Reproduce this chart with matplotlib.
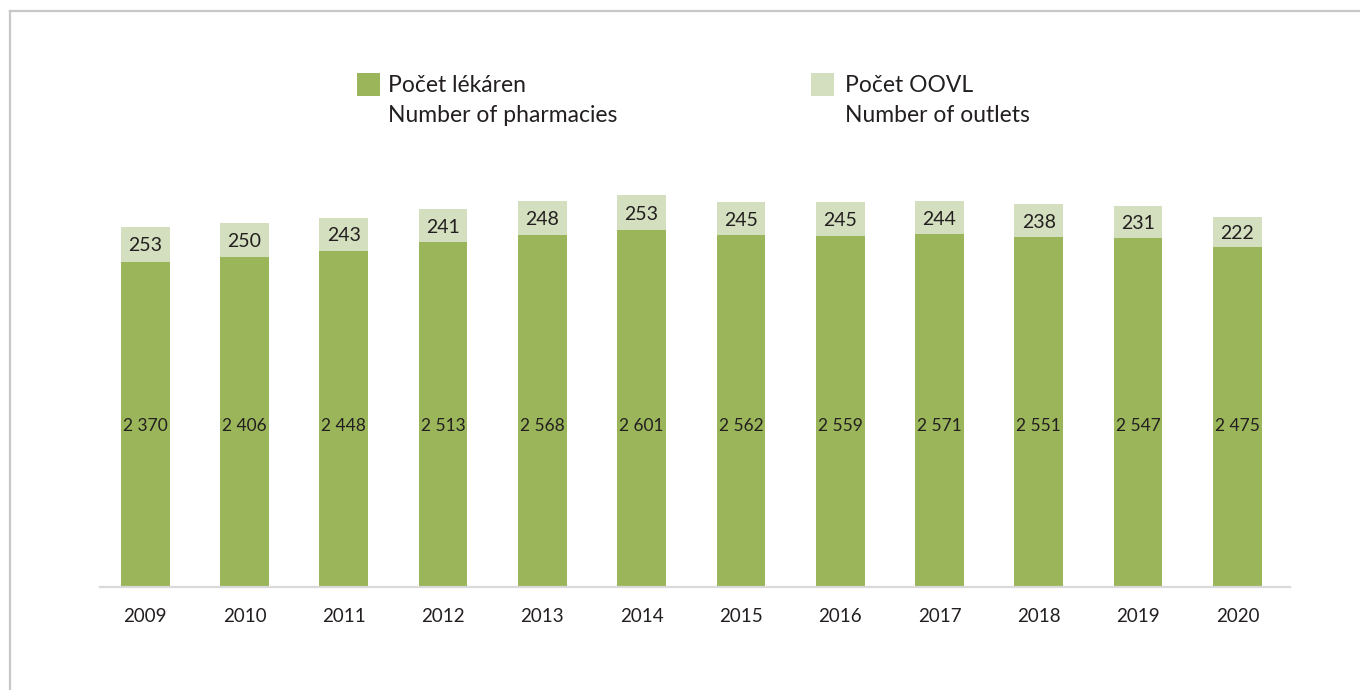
import matplotlib
matplotlib.use("Agg")
import matplotlib.pyplot as plt
from matplotlib.patches import Rectangle
from matplotlib.lines import Line2D
import numpy as np

years = ["2009", "2010", "2011", "2012", "2013", "2014", "2015", "2016", "2017", "2018", "2019", "2020"]
pharmacies = [2370, 2406, 2448, 2513, 2568, 2601, 2562, 2559, 2571, 2551, 2547, 2475]
outlets = [253, 250, 243, 241, 248, 253, 245, 245, 244, 238, 231, 222]
legend_labels = ["Počet lékáren\nNumber of pharmacies", "Počet OOVL\nNumber of outlets"]

GREEN = "#9bb65a"
LIGHT = "#d3dfbe"
TXT = "#231f20"

plt.rcParams['font.family'] = ['Lato', 'DejaVu Sans']

W, H = 1360, 690
fig = plt.figure(figsize=(W / 100, H / 100), dpi=100)

# axes placement (pixel-based)
ax_left, ax_right, ax_bottom, ax_top = 100, 1290, 587, 150
ax = fig.add_axes([ax_left / W, 1 - ax_bottom / H, (ax_right - ax_left) / W, (ax_bottom - ax_top) / H])

x = np.arange(len(years))
bw = 0.49
ax.bar(x, pharmacies, width=bw, color=GREEN, linewidth=0)
ax.bar(x, outlets, width=bw, bottom=pharmacies, color=LIGHT, linewidth=0)

ymax = (ax_bottom - ax_top) / 0.1372
ax.set_ylim(0, ymax)
ax.set_xlim(-0.455, 11.53)

inner_y = min(pharmacies) / 2
for xi, p, o in zip(x, pharmacies, outlets):
    ax.text(xi, inner_y, f"{p:,}".replace(",", " "), ha="center", va="center_baseline",
            fontsize=12.5, color=TXT)
    ax.text(xi, p + o / 2, str(o), ha="center", va="center_baseline", fontsize=14, color=TXT)

for s in ["top", "right", "left"]:
    ax.spines[s].set_visible(False)
ax.spines["bottom"].set_color("#d9d9d9")
ax.spines["bottom"].set_linewidth(1.6)
ax.set_yticks([])
ax.set_xticks(x)
ax.set_xticklabels(years, fontsize=13.5, color=TXT)
ax.tick_params(axis="x", length=0, pad=15)

# frame lines (top and left)
fig.add_artist(Line2D([10 / W, 1], [1 - 11 / H, 1 - 11 / H], color="#c8c8c8", linewidth=1.6,
                      transform=fig.transFigure))
fig.add_artist(Line2D([10 / W, 10 / W], [0, 1 - 11 / H], color="#c8c8c8", linewidth=1.6,
                      transform=fig.transFigure))

# legend
for (sx, tx), col, lab in zip([(357, 388), (811, 845)], [GREEN, LIGHT], legend_labels):
    fig.add_artist(Rectangle((sx / W, 1 - 96 / H), 23 / W, 23 / H, color=col,
                             transform=fig.transFigure, linewidth=0))
    fig.text(tx / W, 1 - 75 / H, lab, ha="left", va="top", fontsize=16.5, color=TXT,
             linespacing=1.5)

fig.savefig("out.png", dpi=100)
